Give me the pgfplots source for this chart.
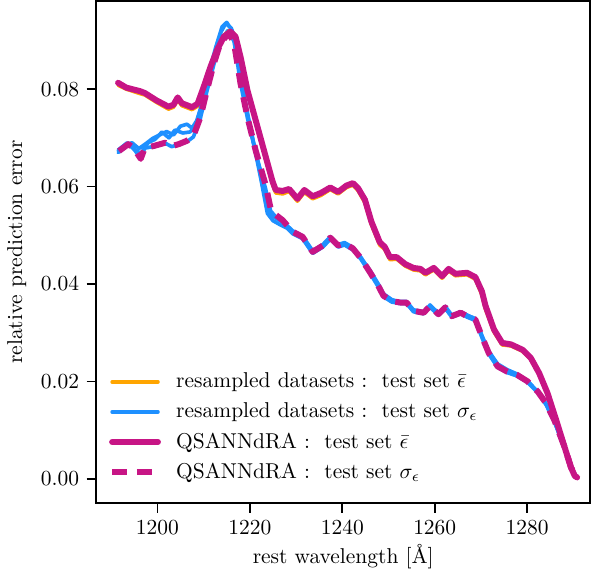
\documentclass[border=0pt]{standalone}
\usepackage{pgfplots}
\pgfplotsset{compat=1.18}
\definecolor{orng}{HTML}{FFA500}
\definecolor{dblue}{HTML}{1E90FF}
\definecolor{mvred}{HTML}{C71585}
\begin{document}
\begin{tikzpicture}
\begin{axis}[
    scale only axis,
    width=230pt, height=234pt,
    xmin=1186.8, xmax=1293.6,
    ymin=-0.0050, ymax=0.0981,
    xtick={1200,1220,1240,1260,1280},
    ytick={0,0.02,0.04,0.06,0.08},
    scaled y ticks=false,
    yticklabel style={/pgf/number format/fixed, /pgf/number format/fixed zerofill, /pgf/number format/precision=2},
    xticklabel style={/pgf/number format/1000 sep={}},
    tick align=outside,
    xtick pos=bottom, ytick pos=left,
    major tick length=4.5pt,
    every tick/.style={black, line width=0.8pt},
    axis line style={line width=0.9pt},
    xlabel={rest wavelength [\AA]},
    xlabel style={yshift=2pt},
    ylabel={relative prediction error},
    legend style={draw=none, fill=none, at={(0.012,0.025)}, anchor=south west,
        row sep=1.5pt, font=\normalsize},
    legend cell align=left,
    legend image code/.code={\draw[#1] (0cm,0cm) -- (0.75cm,0cm); \path (0.93cm,0cm);},
    every axis plot/.append style={line join=round, line cap=round},
]
% resampled datasets: mean error
\addplot[orng, line width=1.7pt] coordinates {
(1191.5,0.0810)(1193.3,0.0801)(1196.2,0.0794)(1197.3,0.0790)(1199.8,0.0775)(1202.4,0.0762)(1203.5,0.0766)(1204.4,0.0781)(1205.3,0.0769)(1207.5,0.0761)(1208.7,0.0768)(1210.0,0.0802)(1211.5,0.0844)(1212.9,0.0879)(1214.4,0.0907)(1215.8,0.0917)(1216.9,0.0907)(1218.0,0.0865)(1219.5,0.0796)(1221.3,0.0733)(1223.1,0.0671)(1224.9,0.0608)(1225.6,0.0590)(1227.1,0.0588)(1228.5,0.0592)(1230.3,0.0572)(1231.8,0.0590)(1233.6,0.0577)(1235.4,0.0584)(1237.4,0.0595)(1239.1,0.0586)(1240.9,0.0599)(1242.3,0.0604)(1243.4,0.0594)(1244.9,0.0569)(1246.3,0.0524)(1248.1,0.0482)(1249.2,0.0473)(1250.3,0.0452)(1251.8,0.0452)(1253.6,0.0438)(1255.4,0.0430)(1256.9,0.0428)(1258.0,0.0420)(1259.8,0.0430)(1261.6,0.0413)(1263.0,0.0428)(1264.5,0.0418)(1267.0,0.0420)(1268.8,0.0411)(1270.2,0.0380)(1271.0,0.0350)(1272.8,0.0303)(1274.6,0.0276)(1276.5,0.0274)(1279.0,0.0263)(1280.8,0.0246)(1282.6,0.0215)(1284.4,0.0174)(1286.3,0.0118)(1288.1,0.0064)(1289.5,0.0022)(1290.3,0.0006)(1290.8,0.0003)
};
\addlegendentry{resampled datasets :\ \ test set $\bar{\epsilon}$}
% resampled datasets: error scatter
\addplot[dblue, line width=1.7pt] coordinates {
(1191.7,0.0671)(1193.7,0.0686)(1194.8,0.0679)(1196.2,0.0660)(1197.3,0.0679)(1199.1,0.0682)(1201.7,0.0689)(1203.1,0.0682)(1204.6,0.0686)(1206.4,0.0692)(1207.8,0.0702)(1209.3,0.0740)(1210.7,0.0795)(1212.2,0.0850)(1213.6,0.0896)(1215.2,0.0920)(1216.6,0.0898)(1218.0,0.0812)(1219.5,0.0740)(1221.3,0.0668)(1223.4,0.0596)(1224.5,0.0550)(1225.6,0.0538)(1227.1,0.0528)(1229.3,0.0505)(1231.4,0.0495)(1233.6,0.0464)(1235.8,0.0477)(1237.4,0.0493)(1239.1,0.0477)(1240.5,0.0481)(1242.3,0.0471)(1244.1,0.0450)(1246.0,0.0422)(1247.8,0.0394)(1248.9,0.0374)(1250.7,0.0363)(1252.5,0.0360)(1253.9,0.0360)(1255.4,0.0343)(1257.6,0.0339)(1259.0,0.0353)(1260.8,0.0336)(1262.3,0.0350)(1263.7,0.0332)(1265.6,0.0339)(1267.0,0.0332)(1268.8,0.0325)(1270.3,0.0288)(1271.7,0.0256)(1273.6,0.0229)(1275.7,0.0218)(1277.9,0.0211)(1280.1,0.0198)(1282.3,0.0177)(1284.1,0.0153)(1285.9,0.0118)(1288.1,0.0063)(1289.5,0.0022)(1290.8,0.0002)
};
\addlegendentry{resampled datasets :\ \ test set $\sigma_{\epsilon}$}
\addplot[orng, line width=1.7pt, forget plot] coordinates {
(1191.5,0.0808)(1193.3,0.0800)(1196.2,0.0791)(1197.3,0.0788)(1199.8,0.0773)(1202.4,0.0759)(1203.5,0.0763)(1204.4,0.0778)(1205.3,0.0766)(1207.5,0.0758)(1208.7,0.0765)(1210.0,0.0800)(1211.5,0.0843)(1212.9,0.0878)(1214.4,0.0910)(1215.8,0.0922)(1216.9,0.0910)(1218.0,0.0866)(1219.5,0.0795)(1221.3,0.0731)(1223.1,0.0668)(1224.9,0.0605)(1225.6,0.0587)(1227.1,0.0585)(1228.5,0.0590)(1230.3,0.0570)(1231.8,0.0588)(1233.6,0.0575)(1235.4,0.0582)(1237.4,0.0594)(1239.1,0.0585)(1240.9,0.0598)(1242.3,0.0603)(1243.4,0.0592)(1244.9,0.0567)(1246.3,0.0522)(1248.1,0.0480)(1249.2,0.0471)(1250.3,0.0450)(1251.8,0.0451)(1253.6,0.0437)(1255.4,0.0429)(1256.9,0.0427)(1258.0,0.0419)(1259.8,0.0429)(1261.6,0.0412)(1263.0,0.0427)(1264.5,0.0417)(1267.0,0.0419)(1268.8,0.0410)(1270.2,0.0378)(1271.0,0.0348)(1272.8,0.0302)(1274.6,0.0275)(1276.5,0.0273)(1279.0,0.0262)(1280.8,0.0245)(1282.6,0.0214)(1284.4,0.0173)(1286.3,0.0117)(1288.1,0.0063)(1289.5,0.0022)(1290.3,0.0006)(1290.8,0.0003)
};
\addplot[dblue, line width=1.7pt, forget plot] coordinates {
(1191.5,0.0670)(1193.0,0.0684)(1194.5,0.0690)(1196.0,0.0678)(1197.5,0.0688)(1199.0,0.0699)(1200.5,0.0706)(1202.0,0.0713)(1203.5,0.0706)(1205.0,0.0724)(1206.4,0.0728)(1207.5,0.0720)(1208.5,0.0735)(1209.8,0.0775)(1211.2,0.0835)(1212.6,0.0885)(1214.0,0.0928)(1215.0,0.0937)(1216.2,0.0920)(1217.5,0.0855)(1219.0,0.0770)(1220.8,0.0690)(1222.5,0.0610)(1223.8,0.0545)(1225.0,0.0530)(1226.5,0.0522)(1228.0,0.0515)(1229.3,0.0503)(1231.4,0.0493)(1233.6,0.0463)(1235.8,0.0476)(1237.4,0.0492)(1239.1,0.0476)(1240.5,0.0480)(1242.3,0.0470)(1244.1,0.0452)(1246.0,0.0428)(1247.8,0.0400)(1248.9,0.0380)(1250.7,0.0368)(1252.5,0.0362)(1253.9,0.0360)(1255.4,0.0346)(1257.6,0.0342)(1259.0,0.0352)(1260.8,0.0337)(1262.3,0.0349)(1263.7,0.0335)(1265.6,0.0343)(1267.0,0.0336)(1268.8,0.0328)(1270.3,0.0292)(1271.7,0.0262)(1273.6,0.0236)(1275.7,0.0224)(1277.9,0.0215)(1280.1,0.0201)(1282.3,0.0178)(1284.1,0.0152)(1285.9,0.0117)(1288.1,0.0062)(1289.5,0.0021)(1290.8,0.0002)
};
\addplot[dblue, line width=1.7pt, forget plot] coordinates {
(1191.5,0.0675)(1193.5,0.0690)(1195.0,0.0676)(1196.5,0.0668)(1198.0,0.0690)(1199.5,0.0697)(1201.0,0.0712)(1202.5,0.0700)(1203.8,0.0716)(1205.5,0.0710)(1207.0,0.0712)(1208.3,0.0722)(1209.5,0.0760)(1211.0,0.0820)(1212.5,0.0875)(1213.8,0.0918)(1214.8,0.0935)(1216.0,0.0925)(1217.2,0.0880)(1218.7,0.0790)(1220.3,0.0712)(1222.0,0.0640)(1223.5,0.0570)(1224.8,0.0540)(1226.0,0.0533)(1227.5,0.0525)(1229.3,0.0509)(1231.4,0.0499)(1233.6,0.0468)(1235.8,0.0481)(1237.4,0.0497)(1239.1,0.0481)(1240.5,0.0485)(1242.3,0.0475)(1244.1,0.0454)(1246.0,0.0426)(1247.8,0.0398)(1248.9,0.0378)(1250.7,0.0367)(1252.5,0.0364)(1253.9,0.0364)(1255.4,0.0347)(1257.6,0.0343)(1259.0,0.0357)(1260.8,0.0340)(1262.3,0.0354)(1263.7,0.0336)(1265.6,0.0343)(1267.0,0.0336)(1268.8,0.0329)(1270.3,0.0291)(1271.7,0.0259)(1273.6,0.0232)(1275.7,0.0221)(1277.9,0.0214)(1280.1,0.0200)(1282.3,0.0179)(1284.1,0.0154)(1285.9,0.0119)(1288.1,0.0064)(1289.5,0.0022)(1290.8,0.0003)
};
% QSANNdRA
\addplot[mvred, line width=2.8pt] coordinates {
(1191.5,0.0813)(1193.3,0.0803)(1196.2,0.0796)(1197.3,0.0792)(1199.8,0.0777)(1202.4,0.0764)(1203.5,0.0768)(1204.4,0.0783)(1205.3,0.0771)(1207.5,0.0763)(1208.7,0.0770)(1210.0,0.0804)(1211.5,0.0846)(1212.9,0.0880)(1214.4,0.0908)(1215.8,0.0918)(1216.9,0.0908)(1218.0,0.0866)(1219.5,0.0797)(1221.3,0.0735)(1223.1,0.0673)(1224.9,0.0611)(1225.6,0.0593)(1227.1,0.0591)(1228.5,0.0595)(1230.3,0.0575)(1231.8,0.0593)(1233.6,0.0580)(1235.4,0.0587)(1237.4,0.0598)(1239.1,0.0589)(1240.9,0.0602)(1242.3,0.0607)(1243.4,0.0597)(1244.9,0.0573)(1246.3,0.0528)(1248.1,0.0486)(1249.2,0.0476)(1250.3,0.0455)(1251.8,0.0455)(1253.6,0.0441)(1255.4,0.0433)(1256.9,0.0431)(1258.0,0.0423)(1259.8,0.0433)(1261.6,0.0416)(1263.0,0.0431)(1264.5,0.0421)(1267.0,0.0423)(1268.8,0.0414)(1270.2,0.0385)(1271.0,0.0355)(1272.8,0.0307)(1274.6,0.0279)(1276.5,0.0276)(1279.0,0.0265)(1280.8,0.0248)(1282.6,0.0217)(1284.4,0.0176)(1286.3,0.0120)(1288.1,0.0065)(1289.5,0.0023)(1290.3,0.0006)(1290.8,0.0003)
};
\addlegendentry{QSANNdRA :\ \ test set $\bar{\epsilon}$}
\addplot[mvred, line width=2.8pt, dash pattern=on 7pt off 4.5pt, line cap=butt] coordinates {
(1191.7,0.0673)(1193.7,0.0687)(1194.8,0.0680)(1196.4,0.0657)(1197.3,0.0680)(1199.1,0.0683)(1201.7,0.0690)(1203.1,0.0683)(1204.6,0.0687)(1206.4,0.0694)(1207.8,0.0704)(1209.3,0.0742)(1210.7,0.0797)(1212.2,0.0852)(1213.6,0.0894)(1215.5,0.0915)(1216.6,0.0894)(1218.0,0.0811)(1219.5,0.0742)(1221.3,0.0673)(1223.4,0.0604)(1224.5,0.0555)(1225.6,0.0542)(1227.1,0.0531)(1229.3,0.0507)(1231.4,0.0497)(1233.6,0.0466)(1235.8,0.0479)(1237.4,0.0495)(1239.1,0.0479)(1240.5,0.0483)(1242.3,0.0473)(1244.1,0.0452)(1246.0,0.0424)(1247.8,0.0396)(1248.9,0.0376)(1250.7,0.0365)(1252.5,0.0362)(1253.9,0.0362)(1255.4,0.0345)(1257.6,0.0341)(1259.0,0.0355)(1260.8,0.0338)(1262.3,0.0352)(1263.7,0.0334)(1265.6,0.0341)(1267.0,0.0334)(1268.8,0.0327)(1270.3,0.0290)(1271.7,0.0258)(1273.6,0.0231)(1275.7,0.0220)(1277.9,0.0213)(1280.1,0.0200)(1282.3,0.0179)(1284.1,0.0155)(1285.9,0.0120)(1288.1,0.0065)(1289.5,0.0023)(1290.8,0.0003)
};
\addlegendentry{QSANNdRA :\ \ test set $\sigma_{\epsilon}$}
\end{axis}
\end{tikzpicture}
\end{document}
